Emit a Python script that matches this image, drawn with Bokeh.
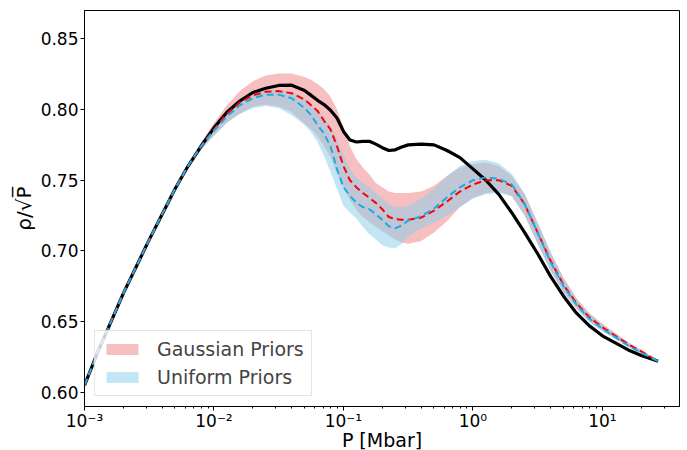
from bokeh.plotting import figure
from bokeh.models import (FixedTicker, CustomJSTickFormatter, Range1d,
                          NumeralTickFormatter, ColumnDataSource)
from bokeh.embed import file_html
from bokeh.resources import INLINE

# ---------------- data ----------------
log_p = [-3.0, -2.9, -2.8, -2.7, -2.6, -2.5, -2.4, -2.3, -2.2, -2.1,
         -2.0, -1.9, -1.8, -1.7, -1.6, -1.5, -1.4, -1.3,
         -1.25, -1.2, -1.15, -1.1, -1.05, -1.0, -0.95, -0.9, -0.85, -0.8,
         -0.75, -0.7, -0.65, -0.6, -0.55,
         -0.5, -0.4, -0.3, -0.2, -0.1, 0.0, 0.1, 0.2, 0.3, 0.4,
         0.5, 0.6, 0.7, 0.8, 0.9, 1.0, 1.1, 1.2, 1.3,
         1.43]

reference = [0.605, 0.628, 0.649, 0.670, 0.689, 0.708, 0.726, 0.744, 0.760, 0.774,
             0.787, 0.798, 0.806, 0.812, 0.815, 0.817, 0.8172, 0.8135,
             0.810, 0.8065, 0.8035, 0.7995, 0.794, 0.7845, 0.7785, 0.777, 0.7775, 0.7775,
             0.7755, 0.773, 0.771, 0.7715, 0.7735,
             0.775, 0.7755, 0.775, 0.771, 0.766, 0.758, 0.750, 0.740, 0.727, 0.713,
             0.698, 0.682, 0.668, 0.656, 0.647, 0.640, 0.635, 0.630, 0.626,
             0.622]

gauss_mean = [0.605, 0.628, 0.649, 0.670, 0.689, 0.708, 0.726, 0.744, 0.760, 0.774,
              0.786, 0.797, 0.805, 0.810, 0.8125, 0.813, 0.8115, 0.807,
              0.803, 0.799, 0.792, 0.786, 0.774, 0.760, 0.750, 0.745, 0.741, 0.7375,
              0.734, 0.7295, 0.724, 0.7225, 0.722,
              0.722, 0.7235, 0.7285, 0.735, 0.742, 0.747, 0.750, 0.750, 0.746, 0.733,
              0.713, 0.693, 0.676, 0.663, 0.653, 0.646, 0.640, 0.634, 0.629,
              0.622]

gauss_upper = [0.6055, 0.6285, 0.6495, 0.6705, 0.6897, 0.7088, 0.7270, 0.7453, 0.7618, 0.7765,
               0.7905, 0.8030, 0.8130, 0.8200, 0.8240, 0.8255, 0.8255, 0.8230,
               0.8210, 0.8180, 0.8145, 0.8090, 0.8000, 0.7880, 0.7740, 0.7650, 0.7590, 0.7540,
               0.7480, 0.7450, 0.7420, 0.7410, 0.7410,
               0.7410, 0.7420, 0.7460, 0.7530, 0.7590, 0.7615, 0.7625, 0.7600, 0.7530, 0.7400,
               0.7200, 0.6990, 0.6810, 0.6665, 0.6560, 0.6485, 0.6420, 0.6355, 0.6302,
               0.6225]

gauss_lower = [0.6045, 0.6275, 0.6485, 0.6695, 0.6883, 0.7072, 0.7250, 0.7427, 0.7582, 0.7715,
               0.7815, 0.7910, 0.7970, 0.8020, 0.8035, 0.8020, 0.7980, 0.7900,
               0.7860, 0.7810, 0.7740, 0.7660, 0.7550, 0.7450, 0.7360, 0.7290, 0.7240, 0.7205,
               0.7170, 0.7140, 0.7110, 0.7080, 0.7060,
               0.7050, 0.7070, 0.7130, 0.7210, 0.7310, 0.7375, 0.7410, 0.7420, 0.7390, 0.7250,
               0.7050, 0.6860, 0.6710, 0.6595, 0.6500, 0.6435, 0.6380, 0.6325, 0.6278,
               0.6215]

unif_mean = [0.605, 0.628, 0.649, 0.670, 0.689, 0.708, 0.726, 0.744, 0.760, 0.774,
             0.785, 0.795, 0.803, 0.808, 0.8105, 0.8105, 0.808, 0.801,
             0.796, 0.789, 0.783, 0.774, 0.758, 0.745, 0.739, 0.734, 0.731, 0.7295,
             0.726, 0.722, 0.7175, 0.716, 0.718,
             0.7215, 0.7245, 0.730, 0.738, 0.745, 0.750, 0.752, 0.751, 0.747, 0.733,
             0.713, 0.692, 0.675, 0.662, 0.652, 0.645, 0.639, 0.633, 0.628,
             0.622]

unif_upper = [0.6055, 0.6285, 0.6495, 0.6705, 0.6897, 0.7088, 0.7270, 0.7453, 0.7618, 0.7765,
              0.7890, 0.8000, 0.8080, 0.8125, 0.8140, 0.8140, 0.8125, 0.8080,
              0.8040, 0.7990, 0.7940, 0.7880, 0.7790, 0.7680, 0.7580, 0.7520, 0.7480, 0.7450,
              0.7410, 0.7370, 0.7330, 0.7310, 0.7310,
              0.7320, 0.7370, 0.7440, 0.7530, 0.7600, 0.7635, 0.7645, 0.7620, 0.7545, 0.7405,
              0.7200, 0.6990, 0.6805, 0.6660, 0.6555, 0.6480, 0.6415, 0.6350, 0.6298,
              0.6225]

unif_lower = [0.6045, 0.6275, 0.6485, 0.6695, 0.6883, 0.7072, 0.7250, 0.7427, 0.7582, 0.7715,
              0.7815, 0.7905, 0.7970, 0.8010, 0.8025, 0.8010, 0.7960, 0.7890,
              0.7840, 0.7770, 0.7670, 0.7560, 0.7440, 0.7320, 0.7270, 0.7230, 0.7170, 0.7120,
              0.7080, 0.7040, 0.7025, 0.7020, 0.7050,
              0.7100, 0.7160, 0.7200, 0.7250, 0.7310, 0.7370, 0.7400, 0.7410, 0.7385, 0.7250,
              0.7050, 0.6860, 0.6700, 0.6590, 0.6495, 0.6430, 0.6375, 0.6320, 0.6272,
              0.6215]

y_ticks = [0.60, 0.65, 0.70, 0.75, 0.80, 0.85]
x_major = [1e-3, 1e-2, 1e-1, 1e0, 1e1]

series_labels = ["Gaussian Priors", "Uniform Priors"]

# ---------------- figure ----------------
pressure = [10 ** v for v in log_p]
src = ColumnDataSource(dict(p=pressure, ref=reference, gm=gauss_mean, gu=gauss_upper,
                            gl=gauss_lower, um=unif_mean, uu=unif_upper, ul=unif_lower))

FONT = "DejaVu Sans"

p = figure(x_axis_type="log", x_range=Range1d(1e-3, 39.4), y_range=Range1d(0.59, 0.87),
           frame_width=595, frame_height=396, output_backend="svg", toolbar_location=None,
           min_border_left=84, min_border_right=3, min_border_top=10, min_border_bottom=42,
           background_fill_color="white", border_fill_color="white")

p.varea(x="p", y1="gl", y2="gu", source=src, fill_color="lightcoral", fill_alpha=0.5,
        legend_label=series_labels[0])
p.varea(x="p", y1="ul", y2="uu", source=src, fill_color="skyblue", fill_alpha=0.5,
        legend_label=series_labels[1])
p.line(x="p", y="ref", source=src, line_color="black", line_width=3.2)
p.line(x="p", y="gm", source=src, line_color="red", line_width=2, line_dash="7 4")
p.line(x="p", y="um", source=src, line_color="#1CAAE2", line_width=2, line_dash="7 4")

p.grid.visible = False
p.outline_line_color = "black"
p.outline_line_width = 1
p.outline_line_alpha = 1

minor = [m * 10.0 ** e for e in range(-3, 2) for m in range(2, 10)]
p.xaxis.ticker = FixedTicker(ticks=x_major, minor_ticks=minor)
p.xaxis.formatter = CustomJSTickFormatter(code="""
const sup = {'-':'\u207b','0':'\u2070','1':'\u00b9','2':'\u00b2','3':'\u00b3','4':'\u2074',
             '5':'\u2075','6':'\u2076','7':'\u2077','8':'\u2078','9':'\u2079'};
const e = Math.round(Math.log10(tick));
return '10' + String(e).split('').map(c => sup[c]).join('');
""")
p.yaxis.ticker = FixedTicker(ticks=y_ticks)
p.yaxis.formatter = NumeralTickFormatter(format="0.00")

for ax in (p.xaxis[0], p.yaxis[0]):
    ax.axis_line_color = "black"
    ax.major_tick_line_color = "black"
    ax.minor_tick_line_color = "black"
    ax.major_tick_in = 0
    ax.major_tick_out = 4
    ax.minor_tick_in = 0
    ax.minor_tick_out = 2
    ax.major_label_text_font = FONT
    ax.major_label_text_font_size = "17px"
    ax.major_label_text_color = "black"
    ax.axis_label_text_font = FONT
    ax.axis_label_text_font_size = "20px"
    ax.axis_label_text_font_style = "normal"
    ax.axis_label_text_color = "black"

p.xaxis.major_label_standoff = 0
p.xaxis.axis_label_standoff = -5
p.xaxis.axis_label_text_font_size = "19px"
p.yaxis.major_label_standoff = 2
p.yaxis.axis_label_standoff = 2

p.yaxis.minor_tick_line_color = None
p.xaxis.axis_label = "P [Mbar]"
p.yaxis.axis_label = "\u03c1/\u221aP\u0305"

lg = p.legend[0]
lg.location = "bottom_left"
lg.margin = 10
lg.padding = 7
lg.spacing = 6
lg.glyph_width = 40
lg.glyph_height = 14
lg.label_standoff = 15
lg.label_text_font = FONT
lg.label_text_font_size = "19px"
lg.border_line_color = "#cccccc"
lg.border_line_width = 1
lg.background_fill_alpha = 0.8

open("out.html", "w").write(file_html(p, INLINE))
